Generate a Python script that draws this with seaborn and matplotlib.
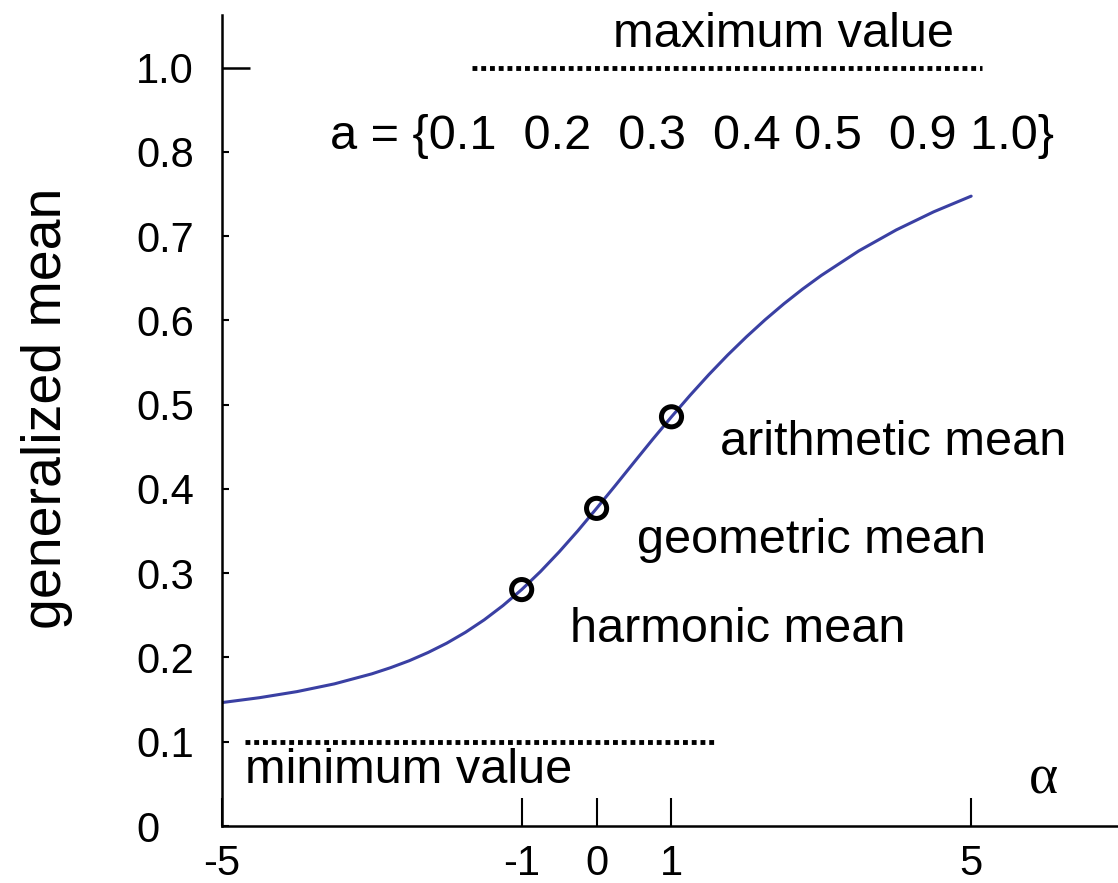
import numpy as np
import pandas as pd
import matplotlib
matplotlib.use('Agg')
import matplotlib.pyplot as plt
import seaborn as sns

# 曲线数据
alpha = [-5.0, -4.5, -4.0, -3.5, -3.0, -2.75, -2.5, -2.25, -2.0, -1.75, -1.5,
         -1.25, -1.0, -0.75, -0.5, -0.25, 0.0, 0.25, 0.5, 0.75, 1.0, 1.25,
         1.5, 1.75, 2.0, 2.25, 2.5, 2.75, 3.0, 3.5, 4.0, 4.5, 5.0]
gen_mean = [0.1465, 0.1523, 0.1595, 0.1687, 0.1806, 0.1879, 0.1962, 0.2059,
            0.2170, 0.2299, 0.2447, 0.2616, 0.2806, 0.3019, 0.3253, 0.3504,
            0.3770, 0.4041, 0.4317, 0.4591, 0.4857, 0.5114, 0.5359, 0.5590,
            0.5806, 0.6009, 0.6198, 0.6373, 0.6535, 0.6826, 0.7075, 0.7290,
            0.7476]

# 三个特殊均值点
mean_alpha = [-1, 0, 1]
mean_value = [0.2806, 0.3770, 0.4857]
mean_names = ['harmonic mean', 'geometric mean', 'arithmetic mean']

a_label = 'a = {0.1  0.2  0.3  0.4 0.5  0.9 1.0}'

xtick_pos = [-5, -1, 0, 1, 5]
xtick_labels = ['-5', '-1', '0', '1', '5']
ytick_pos = [0, 0.1, 0.2, 0.3, 0.4, 0.5, 0.6, 0.7, 0.8]
ytick_labels = ['0', '0.1', '0.2', '0.3', '0.4', '0.5', '0.6', '0.7', '0.8']
ytop_pos = [0.9]
ytop_label = ['1.0']

sns.set_theme(style='white')
plt.rcParams['font.family'] = ['Liberation Sans', 'DejaVu Sans']
plt.rcParams['axes.unicode_minus'] = False
plt.rcParams['text.color'] = 'black'
plt.rcParams['axes.labelcolor'] = 'black'
plt.rcParams['xtick.color'] = 'black'
plt.rcParams['ytick.color'] = 'black'

fig = plt.figure(figsize=(11.18, 8.83), dpi=100)
ax = fig.add_axes([222 / 1118, 57 / 883, 896 / 1118, 811 / 883])

curve_df = pd.DataFrame({'alpha': alpha, 'mean': gen_mean})
sns.lineplot(data=curve_df, x='alpha', y='mean', ax=ax, color='#3a40a3', linewidth=2.2)

pts_df = pd.DataFrame({'alpha': mean_alpha, 'mean': mean_value})
sns.scatterplot(data=pts_df, x='alpha', y='mean', ax=ax, marker='o', s=210,
                facecolor='none', edgecolor='black', linewidth=3.6, zorder=5)

# 最大值 / 最小值 虚线
ax.hlines(0.9, -1.66, 5.15, colors='black', linewidth=3.5, linestyles=(0, (1.0, 0.8)))
ax.hlines(0.1, -4.69, 1.58, colors='black', linewidth=3.5, linestyles=(0, (1.0, 0.8)))

ax.set_xlim(-5, 6.96)
ax.set_ylim(0, 0.9626)

ax.set_xticks(xtick_pos, xtick_labels)
ax.set_yticks(ytop_pos, ytop_label)
ax.set_yticks(ytick_pos, ytick_labels, minor=True)
ax.tick_params(axis='x', direction='in', length=20, width=1.5, labelsize=30, pad=13,
               bottom=True)
ax.tick_params(axis='y', which='major', direction='in', length=20, width=1.8,
               labelsize=30, pad=62, left=True)
ax.tick_params(axis='y', which='minor', direction='in', length=5, width=1.5,
               labelsize=30, pad=62, left=True)
for lab in ax.get_yticklabels(which='both'):
    lab.set_horizontalalignment('left')

for side in ['top', 'right']:
    ax.spines[side].set_visible(False)
for side in ['left', 'bottom']:
    ax.spines[side].set_color('black')
    ax.spines[side].set_linewidth(1.8)

ax.set_xlabel('')
ax.set_ylabel('generalized mean', fontsize=40, labelpad=0)
ax.yaxis.set_label_coords(-0.166, 0.515)

fs = 35
ax.text(0.22, 0.94, 'maximum value', fontsize=fs, va='center', ha='left')
ax.text(-3.56, 0.818, a_label, fontsize=fs, va='center', ha='left')
ax.text(1.65, 0.455, mean_names[2], fontsize=fs, va='center', ha='left')
ax.text(0.54, 0.339, mean_names[1], fontsize=fs, va='center', ha='left')
ax.text(-0.35, 0.233, mean_names[0], fontsize=fs, va='center', ha='left')
ax.text(-4.69, 0.066, 'minimum value', fontsize=fs, va='center', ha='left')
ax.text(5.77, 0.055, 'α', fontsize=40, va='center', ha='left',
        family=['Liberation Serif', 'DejaVu Serif'])

fig.savefig('out.png', dpi=100)
